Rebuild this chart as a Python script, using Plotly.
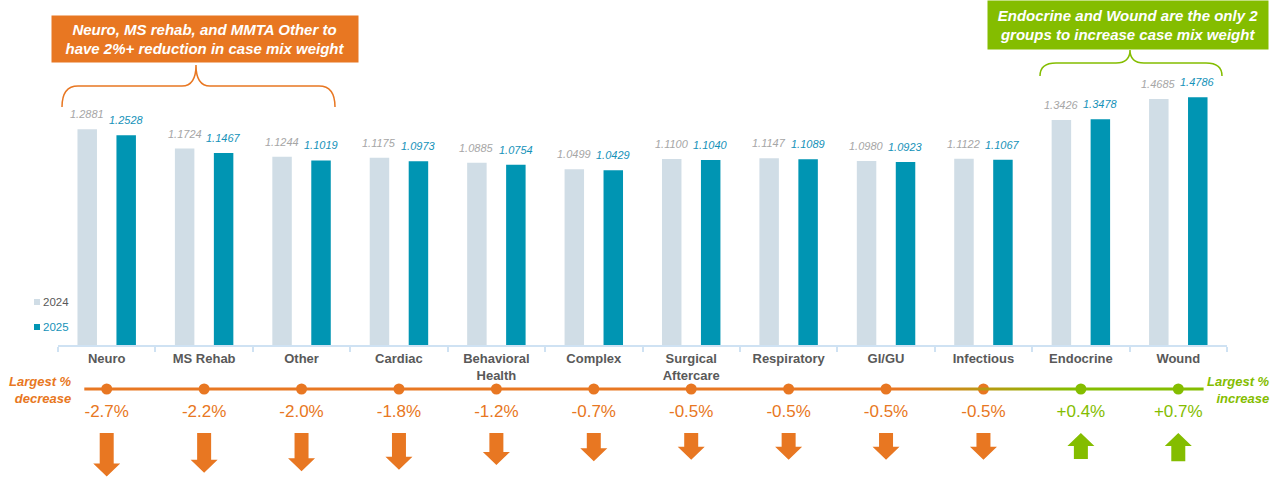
import plotly.graph_objects as go

# ---------------- data ----------------
categories = ["Neuro", "MS Rehab", "Other", "Cardiac", "Behavioral<br>Health", "Complex",
              "Surgical<br>Aftercare", "Respiratory", "GI/GU", "Infectious", "Endocrine", "Wound"]
cmw_2024 = [1.2881, 1.1724, 1.1244, 1.1175, 1.0885, 1.0499, 1.1100, 1.1147, 1.0980, 1.1122, 1.3426, 1.4685]
cmw_2025 = [1.2528, 1.1467, 1.1019, 1.0973, 1.0754, 1.0429, 1.1040, 1.1089, 1.0923, 1.1067, 1.3478, 1.4786]
pct_change = [-2.7, -2.2, -2.0, -1.8, -1.2, -0.7, -0.5, -0.5, -0.5, -0.5, 0.4, 0.7]
series_names = ["2024", "2025"]

# ---------------- styles ----------------
W, H = 1281, 480
PL, PR, PT, PB = 58, 54, 0, 0
FONT = "Arial, Liberation Sans, sans-serif"
C24 = "#d0dde6"
C25 = "#0095b3"
C25_TXT = "#1592b9"
C24_TXT = "#a6a6a6"
ORANGE = "#e87722"
GREEN = "#84bd00"
GRAY = "#595959"
AXIS_C = "#cfe2f3"
PX_PER_UNIT = 167.5
BASE_PY = 345
N = len(categories)


def fx(px):
    return (px - PL) / (W - PL - PR)


def fy(py):
    return (H - py) / H


y_dom_bottom = fy(BASE_PY)
y_top = BASE_PY / PX_PER_UNIT
y2_top = 0.27
y2_range = y2_top * H  # 1 unit = 1 px


def y2(py):
    return H - py


fig = go.Figure()
fig.add_trace(go.Bar(x=categories, y=cmw_2024, name=series_names[0], marker_color=C24,
                     marker_line_width=0, showlegend=False))
fig.add_trace(go.Bar(x=categories, y=cmw_2025, name=series_names[1], marker_color=C25,
                     marker_line_width=0, showlegend=False))

annotations = []
# value labels
for c, a, b in zip(categories, cmw_2024, cmw_2025):
    annotations.append(dict(x=c, y=a, xref="x", yref="y", xshift=-19.5, yshift=7,
                            text=f"<i>{a:.4f}</i>", showarrow=False, xanchor="center", yanchor="bottom",
                            font=dict(family=FONT, size=11, color=C24_TXT)))
    annotations.append(dict(x=c, y=b, xref="x", yref="y", xshift=19.5, yshift=7,
                            text=f"<i>{b:.4f}</i>", showarrow=False, xanchor="center", yanchor="bottom",
                            font=dict(family=FONT, size=11, color=C25_TXT)))

# legend (manual)
shapes = []
for name, col, tcol, py in [(series_names[0], C24, GRAY, 302), (series_names[1], C25, C25_TXT, 327)]:
    shapes.append(dict(type="rect", xref="paper", yref="paper", x0=fx(34), x1=fx(40),
                       y0=fy(py + 3), y1=fy(py - 3), fillcolor=col, line_width=0))
    annotations.append(dict(x=fx(40.5), y=fy(py), xref="paper", yref="paper", text=name,
                            showarrow=False, xanchor="left", yanchor="middle",
                            font=dict(family=FONT, size=11.5, color=tcol)))

# callout boxes
annotations.append(dict(x=fx(205), y=fy(39), xref="paper", yref="paper",
                        text="<b><i>Neuro, MS rehab, and MMTA Other to<br>have 2%+ reduction in case mix weight</i></b>",
                        showarrow=False, bgcolor=ORANGE, width=304, height=44, align="center",
                        xanchor="center", yanchor="middle",
                        font=dict(family=FONT, size=15, color="white")))
annotations.append(dict(x=fx(1128), y=fy(25), xref="paper", yref="paper",
                        text="<b><i>Endocrine and Wound are the only 2<br>groups to increase case mix weight</i></b>",
                        showarrow=False, bgcolor=GREEN, width=278, height=46, align="center",
                        xanchor="center", yanchor="middle",
                        font=dict(family=FONT, size=15, color="white")))


def brace(xl, xr, xt, ytip, yh, yend):
    pts = f"M{fx(xl)},{fy(yend)} Q{fx(xl)},{fy(yh)} {fx(xl + 16)},{fy(yh)} " \
          f"L{fx(xt - 14)},{fy(yh)} Q{fx(xt)},{fy(yh)} {fx(xt)},{fy(ytip)} " \
          f"Q{fx(xt)},{fy(yh)} {fx(xt + 14)},{fy(yh)} L{fx(xr - 16)},{fy(yh)} " \
          f"Q{fx(xr)},{fy(yh)} {fx(xr)},{fy(yend)}"
    return pts


shapes.append(dict(type="path", xref="paper", yref="paper", path=brace(62, 335, 196, 65, 86, 107),
                   line=dict(color=ORANGE, width=1.5)))
shapes.append(dict(type="path", xref="paper", yref="paper", path=brace(1040, 1222, 1130, 50, 63, 76),
                   line=dict(color=GREEN, width=1.5)))

# side labels
annotations.append(dict(x=fx(74), y=fy(390), xref="paper", yref="paper",
                        text="<b><i>Largest %<br>decrease</i></b>", showarrow=False,
                        xanchor="right", yanchor="middle", align="right",
                        font=dict(family=FONT, size=13, color=ORANGE)))
annotations.append(dict(x=fx(1272), y=fy(390), xref="paper", yref="paper",
                        text="<b><i>Largest %<br>increase</i></b>", showarrow=False,
                        xanchor="right", yanchor="middle", align="right",
                        font=dict(family=FONT, size=13, color=GREEN)))

# gradient connector band (on a hidden numeric x axis overlaying the category axis)
ROW_PY = 389
x_start, x_end = -0.23, 11.26
g0, g1 = 8.2, 9.9
t0 = (g0 - x_start) / (x_end - x_start)
t1 = (g1 - x_start) / (x_end - x_start)
half = 1.5
fig.add_trace(go.Scatter(
    x=[x_start, x_end, x_end, x_start, x_start],
    y=[y2(ROW_PY) - half, y2(ROW_PY) - half, y2(ROW_PY) + half, y2(ROW_PY) + half, y2(ROW_PY) - half],
    xaxis="x2", yaxis="y2", mode="none", fill="toself",
    fillgradient=dict(type="horizontal", colorscale=[[0, ORANGE], [t0, ORANGE], [t1, GREEN], [1, GREEN]]),
    showlegend=False, hoverinfo="skip"))

point_colors = [GREEN if v > 0 else ORANGE for v in pct_change]
fig.add_trace(go.Scatter(x=categories, y=[y2(ROW_PY)] * N, yaxis="y2", mode="markers",
                         marker=dict(size=11, color=point_colors), showlegend=False, hoverinfo="skip",
                         cliponaxis=False))
fig.add_trace(go.Scatter(x=categories, y=[y2(413)] * N, yaxis="y2", mode="text",
                         text=[f"{v:+.1f}%" for v in pct_change], textposition="middle center",
                         textfont=dict(family=FONT, size=17, color=point_colors), showlegend=False,
                         hoverinfo="skip", cliponaxis=False))

# block arrows, length scaled by magnitude
ARROW_PY = 433
for i, v in enumerate(pct_change):
    L = 23 + 7.6 * abs(v)
    hw, sw, hh = 13.5, 7, 13
    if v < 0:
        path = (f"M{-sw},0 L{sw},0 L{sw},{-(L - hh)} L{hw},{-(L - hh)} L0,{-L} "
                f"L{-hw},{-(L - hh)} L{-sw},{-(L - hh)} Z")
        col = ORANGE
    else:
        path = (f"M0,0 L{hw},{-hh} L{sw},{-hh} L{sw},{-L} L{-sw},{-L} L{-sw},{-hh} L{-hw},{-hh} Z")
        col = GREEN
    shapes.append(dict(type="path", xref="x", yref="y2", xsizemode="pixel", ysizemode="pixel",
                       xanchor=i, yanchor=y2(ARROW_PY), path=path, fillcolor=col, line_width=0))

fig.update_layout(
    width=W, height=H, margin=dict(l=PL, r=PR, t=PT, b=PB),
    paper_bgcolor="white", plot_bgcolor="white",
    barmode="group", bargap=0.2, bargroupgap=0.5,
    xaxis=dict(type="category", range=[-0.5, N - 0.5], autorange=False,
               showline=True, linecolor=AXIS_C, linewidth=2, ticks="outside",
               tickson="boundaries", ticklen=5, tickcolor=AXIS_C, tickwidth=1.5,
               tickfont=dict(family=FONT, size=13, color=GRAY, weight="bold"), showgrid=False,
               anchor="y"),
    xaxis2=dict(type="linear", range=[-0.5, N - 0.5], autorange=False, overlaying="x",
                anchor="y2", visible=False),
    yaxis=dict(domain=[y_dom_bottom, 1], range=[0, y_top], visible=False, fixedrange=True),
    yaxis2=dict(domain=[0, y2_top], range=[0, y2_range], visible=False, anchor="x"),
    annotations=annotations, shapes=shapes, showlegend=False,
)

fig.write_html("out.html", config={"displayModeBar": False},
               post_script="document.body.style.margin='0';document.body.style.overflow='hidden';")
